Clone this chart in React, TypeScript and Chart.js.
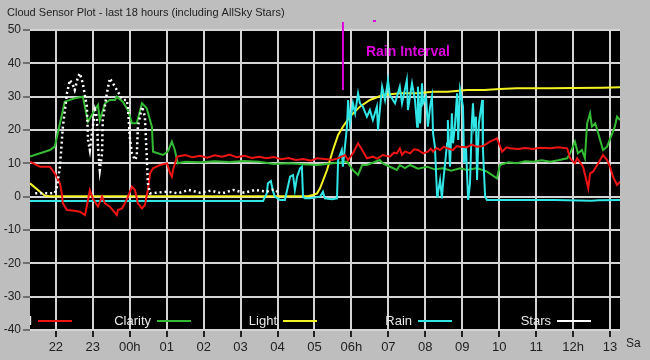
import React, { useEffect, useRef } from 'react';
import { Chart, registerables } from 'chart.js';

Chart.register(...registerables);

const TITLE = 'Cloud Sensor Plot - last 18 hours (including AllSky Stars)';

// x axis: hours of the night (24 = 00h next day)
const X_MIN = 21.3;
const X_MAX = 37.27;
const hourTicks = [22, 23, 24, 25, 26, 27, 28, 29, 30, 31, 32, 33, 34, 35, 36, 37];
const hourLabels = ['22', '23', '00h', '01', '02', '03', '04', '05', '06h', '07', '08', '09', '10', '11', '12h', '13'];
const dayLabel = 'Sa';
const Y_MIN = -40;
const Y_MAX = 50;
const Y_STEP = 10;

const seriesNames = ['Cloud', 'Clarity', 'Light', 'Rain', 'Stars'];
const seriesColors = ['#ee1414', '#34bb34', '#f2f224', '#30e6e6', '#ffffff'];

const cloudData: [number, number][] = [
  [21.3, 10.5], [21.57, 9], [21.84, 9], [21.97, 7], [22.11, 4], [22.16, 1], [22.19, -2], [22.3, -4],
  [22.5, -4.2], [22.65, -4.5], [22.79, -5.5], [22.87, -1], [22.92, 2], [23.0, -0.5], [23.14, -3],
  [23.25, 0], [23.33, -2], [23.46, -3], [23.65, -5.5], [23.68, -4], [23.79, -3.5], [23.87, -2],
  [23.95, 0], [24.06, 3], [24.14, 2], [24.22, -2], [24.33, -3.5], [24.41, -2.5], [24.49, 2],
  [24.55, 7], [24.63, 8.5], [24.82, 9.5], [25.01, 10], [25.09, 7], [25.14, 6], [25.17, 8], [25.28, 12],
  [25.5, 12.5], [25.7, 11.8], [25.9, 12.3], [26.1, 11.7], [26.3, 12.4], [26.5, 12], [26.7, 12.6],
  [26.9, 11.8], [27.1, 12.3], [27.3, 11.6], [27.5, 12], [27.7, 11.5], [27.9, 11.9], [28.1, 11.2],
  [28.3, 11.6], [28.5, 11], [28.7, 11.3], [28.9, 10.8], [29.07, 11.5], [29.34, 11.2], [29.47, 11],
  [29.61, 11.4], [29.83, 12.5], [29.91, 11], [30.04, 13], [30.18, 16], [30.29, 14], [30.42, 11.5],
  [30.58, 12], [30.7, 11.4], [30.85, 12.5], [31.04, 12], [31.15, 13.2], [31.23, 13], [31.31, 14.5],
  [31.37, 12.5], [31.45, 13.6], [31.59, 13], [31.7, 14.2], [31.8, 14], [31.94, 13], [32.07, 13.5],
  [32.15, 14.4], [32.21, 13.5], [32.3, 14.6], [32.4, 14], [32.5, 15], [32.59, 14.5], [32.75, 14],
  [32.85, 15.2], [32.94, 15], [33.13, 14.8], [33.25, 15.6], [33.4, 15], [33.56, 15.2], [33.75, 16.5],
  [33.94, 17.5], [34.08, 13.5], [34.2, 14.8], [34.29, 14.5], [34.5, 14.3], [34.7, 14.6], [34.92, 14.3],
  [35.1, 14.7], [35.38, 14.5], [35.6, 14.8], [35.84, 14.5], [35.92, 11.5], [36.05, 10], [36.11, 11.5],
  [36.27, 9], [36.38, 4], [36.41, 2.5], [36.46, 7], [36.54, 7.5], [36.68, 10], [36.81, 12.5],
  [36.92, 11], [37.0, 9], [37.08, 6], [37.19, 3.5], [37.27, 4.5],
];

const clarityData: [number, number][] = [
  [21.3, 12], [21.84, 14], [21.97, 15], [22.24, 28.5], [22.51, 29.5], [22.73, 30], [22.87, 22.5],
  [23.0, 25], [23.14, 27.5], [23.19, 23], [23.33, 28], [23.46, 29], [23.6, 29], [23.65, 30],
  [23.81, 28.5], [23.95, 26], [24.06, 22], [24.19, 22], [24.33, 28], [24.46, 26.5], [24.6, 21],
  [24.63, 13.5], [24.9, 12.5], [25.03, 13.5], [25.14, 16.5], [25.22, 14], [25.3, 10],
  [25.5, 10.5], [25.9, 10.3], [26.3, 10.6], [26.7, 10.4], [27.1, 10.7], [27.5, 10.5], [27.9, 9.8],
  [28.3, 10], [28.7, 9.7], [29.07, 9.5], [29.5, 10], [29.88, 10.5], [30.04, 8], [30.18, 6.5],
  [30.29, 9.5], [30.42, 9.5], [30.77, 11], [30.85, 10], [31.0, 9.2], [31.23, 8], [31.31, 9.5],
  [31.45, 8.6], [31.59, 9.5], [31.8, 8.4], [32.05, 9], [32.25, 8.2], [32.48, 8.5], [32.7, 7.8],
  [32.94, 8.5], [33.13, 8], [33.4, 8.6], [33.67, 7.5], [33.94, 5.5], [34.02, 9.5], [34.25, 10.3],
  [34.48, 10], [34.7, 10.6], [34.92, 10.5], [35.15, 10.9], [35.38, 10.5], [35.6, 10.9], [35.84, 11.5],
  [35.92, 13], [36.05, 16.5], [36.13, 13], [36.24, 14], [36.32, 11.5], [36.38, 22], [36.46, 25],
  [36.51, 21], [36.6, 22], [36.68, 19], [36.81, 14], [36.92, 15], [37.06, 19], [37.13, 21],
  [37.19, 24], [37.27, 23],
];

const lightData: [number, number][] = [
  [21.3, 4], [21.57, 1.5], [21.7, 0.3], [21.84, 0.1], [28.82, 0.1], [28.96, 0.5], [29.07, 1],
  [29.15, 2.5], [29.34, 8], [29.5, 14], [29.64, 18.5], [29.77, 21], [29.96, 24], [30.23, 27],
  [30.5, 29], [30.85, 30.5], [31.31, 31], [31.78, 31], [32.21, 31.5], [32.61, 31.5], [33.13, 32],
  [33.6, 32], [34.02, 32.3], [34.48, 32.5], [35.38, 32.5], [36.0, 32.6], [36.8, 32.7], [37.27, 32.8],
];

const rainData: [number, number][] = [
  [21.3, -1.3], [27.61, -1.3], [27.71, 1], [27.74, 4], [27.82, 4.7], [27.88, 1.5], [27.93, 0],
  [28.07, -1], [28.2, -1], [28.34, 6], [28.42, 6.5], [28.47, 2], [28.53, 6], [28.61, 8.5],
  [28.66, 9], [28.69, 0], [28.74, -0.5], [28.88, -0.5], [29.15, 0], [29.23, 1.5], [29.28, -0.5],
  [29.47, -0.8], [29.61, -0.5], [29.64, 11], [29.74, 14], [29.77, 9], [29.88, 21], [29.91, 29],
  [29.96, 22], [30.04, 28], [30.1, 25], [30.18, 31], [30.23, 28], [30.31, 27], [30.42, 24],
  [30.5, 26], [30.58, 23], [30.69, 27], [30.72, 20], [30.83, 33], [30.91, 29], [30.99, 35],
  [31.04, 30.5], [31.18, 28], [31.31, 33], [31.37, 28], [31.5, 35], [31.53, 26], [31.64, 34],
  [31.72, 29], [31.78, 21], [31.8, 33], [31.86, 22], [31.91, 34], [31.94, 28], [32.02, 30],
  [32.07, 21], [32.13, 27], [32.18, 30], [32.21, 19], [32.26, 15], [32.32, 0], [32.34, 1],
  [32.4, 5], [32.45, -0.5], [32.48, 4], [32.59, 16], [32.61, 23], [32.67, 9], [32.72, 25],
  [32.75, 16], [32.8, 21], [32.86, 31], [32.89, 17], [32.94, 32], [33.02, 27], [33.05, 10],
  [33.1, 15], [33.16, -1], [33.21, 4], [33.26, 22], [33.29, 28], [33.32, 21], [33.37, 24],
  [33.4, 5], [33.45, 22], [33.54, 29], [33.56, 14], [33.62, 0], [33.67, -1], [35.5, -1],
  [36.5, -1.2], [36.7, -1.1], [37.27, -1],
];

const starsData: [number, number][] = [
  [21.44, 1], [21.97, 1], [22.03, 3], [22.11, 9], [22.19, 21], [22.3, 31], [22.38, 35], [22.46, 33.5],
  [22.51, 32], [22.6, 36], [22.65, 37], [22.73, 34], [22.84, 27], [22.87, 17], [22.92, 14],
  [23.0, 21], [23.06, 26], [23.11, 24], [23.14, 15], [23.19, 8], [23.25, 13], [23.27, 23],
  [23.38, 31], [23.46, 35.5], [23.6, 33], [23.73, 30.5], [23.81, 29], [23.92, 29], [23.95, 27],
  [24.0, 18], [24.06, 13], [24.14, 11], [24.19, 12], [24.22, 21], [24.33, 27], [24.36, 26],
  [24.41, 24], [24.46, 12], [24.49, 4], [24.55, 1], [25.0, 1.5], [25.3, 1], [25.6, 2], [25.9, 1.2],
  [26.2, 1.8], [26.5, 1], [26.8, 2], [27.1, 1.2], [27.4, 2], [27.7, 1.5], [27.9, 2.2], [28.07, 1],
];

// Rain interval marker (hour, value range of the marker line)
const rainIntervalHour = 29.77;
const rainIntervalTop = 52.4;
const rainIntervalBottom = 32;
const rainIntervalLabel = 'Rain Interval';

const FONT = '"Liberation Sans", Arial, sans-serif';

const toPts = (arr: [number, number][]) => arr.map(([x, y]) => ({ x, y }));

const decorPlugin = {
  id: 'decor',
  beforeDraw(chart: any) {
    const { ctx, chartArea: a } = chart;
    ctx.save();
    ctx.fillStyle = '#bebebe';
    ctx.fillRect(0, 0, chart.width, chart.height);
    ctx.fillStyle = '#000000';
    ctx.fillRect(a.left, a.top, a.right - a.left, a.bottom - a.top);
    ctx.restore();
  },
  afterDraw(chart: any) {
    const { ctx, chartArea: a } = chart;
    const xs = chart.scales.x;
    const ys = chart.scales.y;
    ctx.save();
    // title
    ctx.fillStyle = '#222222';
    ctx.font = `11px ${FONT}`;
    ctx.textAlign = 'left';
    ctx.textBaseline = 'middle';
    ctx.fillText(TITLE, 7, 13);
    // day label
    ctx.font = `12px ${FONT}`;
    ctx.fillText(dayLabel, a.right + 6, 344);

    // rain interval marker
    const rx = xs.getPixelForValue(rainIntervalHour);
    ctx.strokeStyle = '#dd00dd';
    ctx.lineWidth = 2;
    ctx.beginPath();
    ctx.moveTo(rx, ys.getPixelForValue(rainIntervalTop));
    ctx.lineTo(rx, ys.getPixelForValue(rainIntervalBottom));
    ctx.stroke();
    ctx.beginPath();
    ctx.moveTo(rx + 30, 21);
    ctx.lineTo(rx + 33, 21);
    ctx.stroke();
    ctx.fillStyle = '#dd00dd';
    ctx.font = `bold 14px ${FONT}`;
    ctx.fillText(rainIntervalLabel, rx + 23, 52);

    // legend
    const lineStarts = [38, 157, 283, 418, 557];
    ctx.font = `13px ${FONT}`;
    ctx.textAlign = 'right';
    seriesNames.forEach((name, i) => {
      const lx = lineStarts[i];
      const y = 321;
      ctx.save();
      ctx.beginPath();
      ctx.rect(a.left, a.top, a.right - a.left, a.bottom - a.top);
      ctx.clip();
      ctx.fillStyle = '#e8e8e8';
      ctx.fillText(name, lx - 6, y);
      ctx.restore();
      ctx.strokeStyle = seriesColors[i];
      ctx.lineWidth = 2;
      ctx.beginPath();
      ctx.moveTo(lx, y);
      ctx.lineTo(lx + 34, y);
      ctx.stroke();
    });
    ctx.restore();
  },
};

export default function App() {
  const ref = useRef<HTMLCanvasElement | null>(null);
  useEffect(() => {
    document.body.style.margin = '0';
    if (!ref.current) return;
    const datasets = [cloudData, clarityData, lightData, rainData, starsData].map((d, i) => ({
      label: seriesNames[i],
      data: toPts(d),
      borderColor: seriesColors[i],
      backgroundColor: seriesColors[i],
      borderWidth: i === 4 ? 2.5 : 2,
      pointRadius: 0,
      tension: 0,
      fill: false,
      borderDash: i === 4 ? [2, 3] : [],
      order: [1, 3, 4, 2, 0][i],
    }));
    const chart = new Chart(ref.current, {
      type: 'line',
      data: { datasets },
      plugins: [decorPlugin],
      options: {
        animation: false,
        responsive: false,
        devicePixelRatio: 1,
        layout: { padding: { top: 30, right: 30, left: 0, bottom: 0 } },
        plugins: { legend: { display: false }, title: { display: false }, tooltip: { enabled: false } },
        scales: {
          x: {
            type: 'linear',
            min: X_MIN,
            max: X_MAX,
            afterBuildTicks: (s: any) => {
              s.ticks = hourTicks.map((v) => ({ value: v }));
            },
            afterFit: (s: any) => {
              s.height = 30;
            },
            ticks: {
              autoSkip: false,
              maxRotation: 0,
              padding: 3,
              color: '#222222',
              font: { family: FONT, size: 13 },
              callback: (v: any) => {
                const i = hourTicks.indexOf(Number(v));
                return i >= 0 ? hourLabels[i] : '';
              },
            },
            grid: { color: '#d4d4d4', lineWidth: 2, tickColor: '#222222', tickLength: 7, tickWidth: 2 },
            border: { display: false },
          },
          y: {
            type: 'linear',
            min: Y_MIN,
            max: Y_MAX,
            afterFit: (s: any) => {
              s.width = 30;
            },
            ticks: {
              stepSize: Y_STEP,
              padding: 2,
              color: '#222222',
              font: { family: FONT, size: 12 },
            },
            grid: { color: '#d4d4d4', lineWidth: 2, tickColor: '#222222', tickLength: 7, tickWidth: 1 },
            border: { display: false },
          },
        },
      },
    });
    return () => chart.destroy();
  }, []);
  return (
    <div style={{ position: 'fixed', left: 0, top: 0, width: 650, height: 360 }}>
      <canvas ref={ref} width={650} height={360} style={{ width: 650, height: 360, display: 'block' }} />
    </div>
  );
}
